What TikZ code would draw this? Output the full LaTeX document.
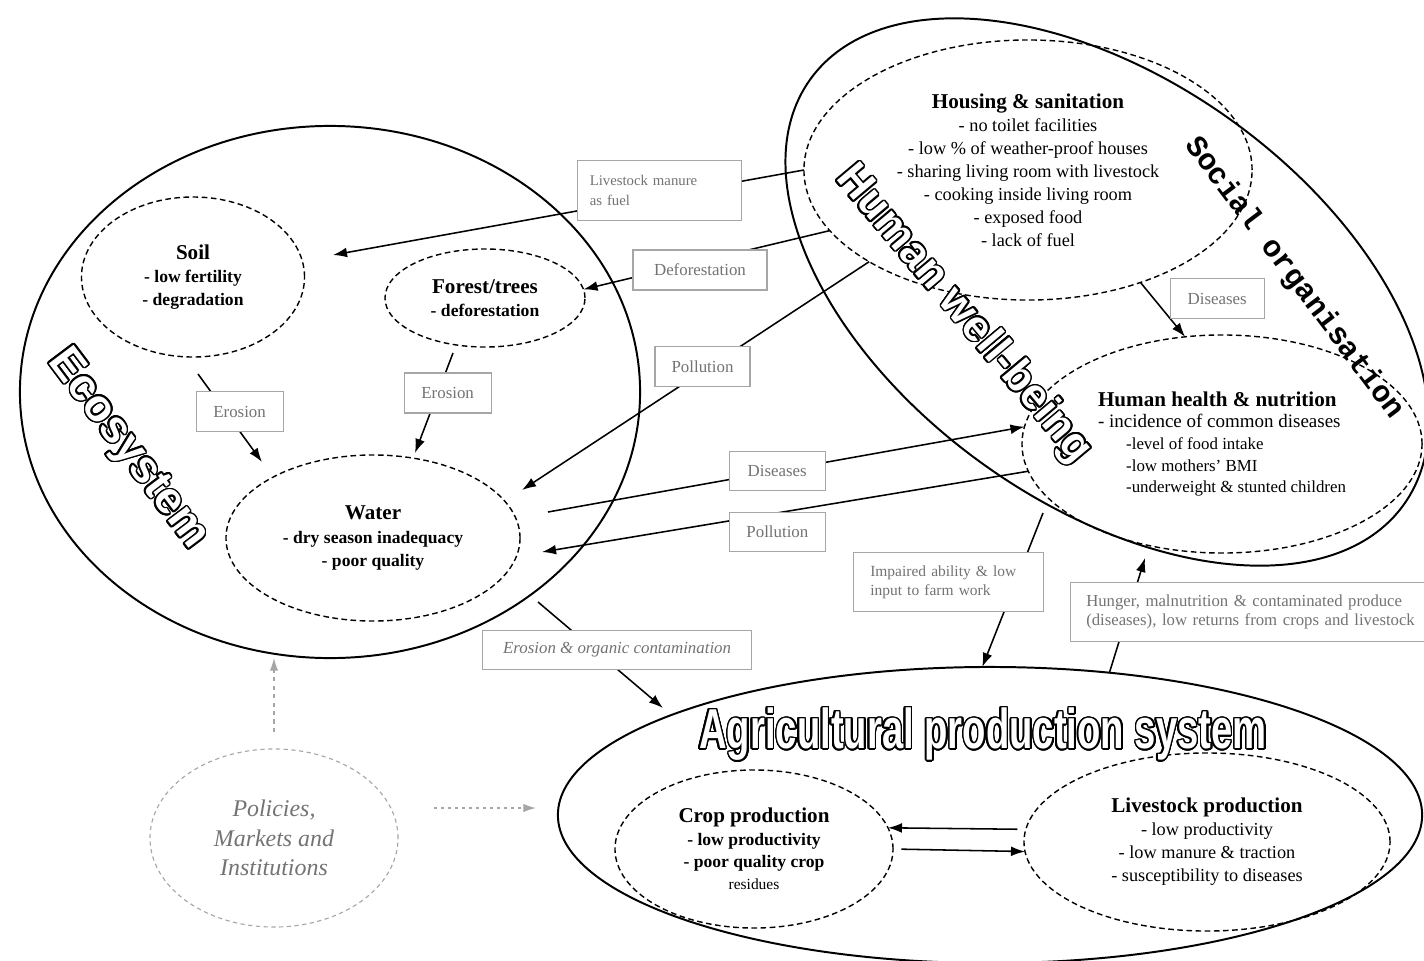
\documentclass[tikz,border=0pt]{standalone}
\usepackage{fontspec}
\setmainfont{Liberation Serif}
\newfontfamily\hwbfont{Liberation Sans}
\newfontfamily\agrifont[FakeStretch=0.68]{Liberation Sans}
\newfontfamily\socfont{Liberation Mono}
\usepackage{contour}
\contourlength{1.1pt}
\contournumber{24}
\usetikzlibrary{shapes.geometric,arrows.meta}
\newcommand{\hollow}[1]{\contour{black}{\textcolor{white}{#1}}}
\newcommand{\hd}[1]{{\fontsize{15}{16.4}\selectfont\bfseries #1}}

\begin{document}
\begin{tikzpicture}[x=0.025cm, y=-0.025cm, every node/.style={font=\fontsize{13}{16.4}\selectfont}]
\tikzstyle{zone}=[draw, ellipse, line width=1.4pt, inner sep=0pt, outer sep=0pt]
\tikzstyle{part}=[draw, ellipse, line width=1pt, dash pattern=on 4pt off 2.5pt, inner sep=0pt, outer sep=0pt, align=center]
\tikzstyle{lbl}=[draw=gray!70, line width=0.8pt, fill=white, text=black!55, font=\fontsize{12}{14}\selectfont, minimum height=1cm]
\tikzstyle{arr}=[-{Latex[length=10pt,width=7pt]}, line width=1.1pt]
\tikzstyle{pol}=[-{Latex[length=9pt,width=6pt]}, gray!70, line width=0.9pt, dash pattern=on 3pt off 3pt]
\useasboundingbox (0,0) rectangle (1424,960);
\node[zone, minimum width=15.5cm, minimum height=13.3cm] (eco) at (330,392) {};
\node[zone, minimum width=18.25cm, minimum height=10.6cm, rotate=-35.6] (hwb) at (1107,292) {};
\node[zone, minimum width=21.6cm, minimum height=7.4cm] (agri) at (990,815) {};
\node[part, minimum width=5.575cm, minimum height=4cm, font=\bfseries\fontsize{12.5}{16.4}\selectfont] (soil) at (193,277) {\hd{Soil}\\- low fertility\\- degradation};
\node[part, minimum width=5cm, minimum height=2.45cm, font=\bfseries\fontsize{12.5}{16.4}\selectfont] (forest) at (485,298) {\hd{Forest/trees}\\- deforestation};
\node[part, minimum width=7.35cm, minimum height=4.15cm, font=\bfseries\fontsize{12.5}{16.4}\selectfont] (water) at (373,538) {\hd{Water}\\- dry season inadequacy\\- poor quality};
\node[part, minimum width=11.2cm, minimum height=6.5cm] (housing) at (1028,170) {\hd{Housing \& sanitation}\\- no toilet facilities\\- low \% of weather-proof houses\\- sharing living room with livestock\\- cooking inside living room\\- exposed food\\- lack of fuel};
\node[part, align=left, minimum width=10cm, minimum height=5.45cm, font=\fontsize{13.5}{15.3}\selectfont] (health) at (1222,444) {\hd{Human health \& nutrition}\\- incidence of common diseases\\{\fontsize{12}{15.3}\selectfont\hspace*{20pt}-level of food intake}\\{\fontsize{12}{15.3}\selectfont\hspace*{20pt}-low mothers' BMI}\\{\fontsize{12}{15.3}\selectfont\hspace*{20pt}-underweight \& stunted children}};
\node[part, minimum width=6.95cm, minimum height=3.95cm, font=\fontsize{12.5}{15.9}\selectfont] (crop) at (754,849) {\hd{Crop production}\\\textbf{- low productivity}\\\textbf{- poor quality crop}\\{\fontsize{11}{13}\selectfont residues}};
\node[part, minimum width=9.15cm, minimum height=4.45cm] (livestock) at (1207,842) {\hd{Livestock production}\\- low productivity\\- low manure \& traction\\- susceptibility to diseases};
\node[part, draw=gray!70, line width=0.8pt, dash pattern=on 3pt off 2.5pt, text=black!55, minimum width=6.2cm, minimum height=4.45cm, font=\itshape\fontsize{17}{21}\selectfont] (policy) at (274,838) {Policies,\\Markets and\\Institutions};
\coordinate (lmEnd) at (333,255);
\coordinate (soilB) at (198,374);
\coordinate (wtrB) at (262,462);
\coordinate (forB) at (453,353);
\coordinate (wtrE) at (415,453);
\coordinate (wtrA) at (522,490);
\coordinate (wtrC) at (548,512);
\coordinate (wtrD) at (542,552);
\coordinate (ecoC) at (538,602);
\coordinate (agrA) at (663,708);
\coordinate (hwbA) at (1043,513);
\coordinate (hwbB) at (1145,558);
\coordinate (polR) at (434,808);
\coordinate (agrL) at (536,808);
\draw[arr] (housing.180) -- node[lbl, pos=0.306, yshift=4pt, align=left, text width=3.5cm, inner xsep=0.3cm, minimum height=1.5cm, font=\fontsize{10.5}{14}\selectfont] (lmbox) {Livestock manure\\as fuel} (lmEnd);
\draw[arr] (housing.197) -- node[lbl, pos=0.527, yshift=-6pt, minimum width=3.35cm] (defbox) {Deforestation} (forest.5);
\draw[arr] (housing.210) -- node[lbl, pos=0.48, yshift=3.5pt, minimum width=2.375cm] (polbox) {Pollution} (wtrA);
\draw[arr] (soilB) -- node[lbl, pos=0.43, xshift=10pt, minimum width=2.175cm] (erobox) {Erosion} (wtrB);
\draw[arr] (forB) -- node[lbl, pos=0.4, xshift=7pt, minimum width=2.175cm] (erobox2) {Erosion} (wtrE);
\draw[arr] (wtrC) -- node[lbl, pos=0.481, minimum width=2.4cm, minimum height=0.975cm] (disbox) {Diseases} (health.175);
\draw[arr] (health.188) -- node[lbl, pos=0.516, yshift=-13.5pt, minimum width=2.4cm, minimum height=0.975cm] (polbox2) {Pollution} (wtrD);
\draw[arr] (ecoC) -- node[lbl, pos=0.453, xshift=16pt, minimum width=6.725cm, minimum height=0.975cm, font=\fontsize{12}{14}\selectfont\itshape] (eocbox) {Erosion \& organic contamination} (agrA);
\draw[arr] (hwbA) -- node[lbl, pos=0.448, xshift=-48pt, align=left, text width=3.9cm, inner xsep=0.425cm, minimum height=1.475cm, font=\fontsize{11}{13.5}\selectfont] (impbox) {Impaired ability \& low\\input to farm work} (agri.93);
\draw[arr] (agri.50) -- node[lbl, pos=0.53, xshift=87.5pt, align=left, text width=8.25cm, inner xsep=0.4cm, minimum height=1.475cm, font=\fontsize{11.9}{13.5}\selectfont] (hunbox) {Hunger, malnutrition \& contaminated produce\\(diseases), low returns from crops and livestock} (hwbB);
\draw[arr] (housing.-45) -- node[lbl, pos=0.3, xshift=45pt, minimum width=2.35cm] (disbox2) {Diseases} (health.109);
\draw[arr, shorten <=6pt] (livestock.176) -- (crop.9);
\draw[arr, shorten <=6pt] (crop.0) -- (livestock.183);
\draw[pol, shorten <=12pt] (policy.north) -- (policy.north |- eco.south);
\draw[pol, dash pattern=on 2pt off 3pt] (polR) -- (agrL);
\node[rotate=-53, font={\hwbfont\fontsize{32}{32}\selectfont\bfseries}] (ecolbl) at (127,450) {\hollow{Ecosystem}};
\node[rotate=-50, font={\hwbfont\fontsize{31}{31}\selectfont\bfseries}] (hwblbl) at (963,315) {\hollow{Human well-being}};
\node[rotate=-53, font={\socfont\fontsize{21.5}{21.5}\selectfont\bfseries}] (soclbl) at (1294,278) {Social organisation};
\node[font={\agrifont\fontsize{40}{40}\selectfont\bfseries}] (agrilbl) at (983,735) {\hollow{Agricultural production system}};
\end{tikzpicture}
\end{document}
